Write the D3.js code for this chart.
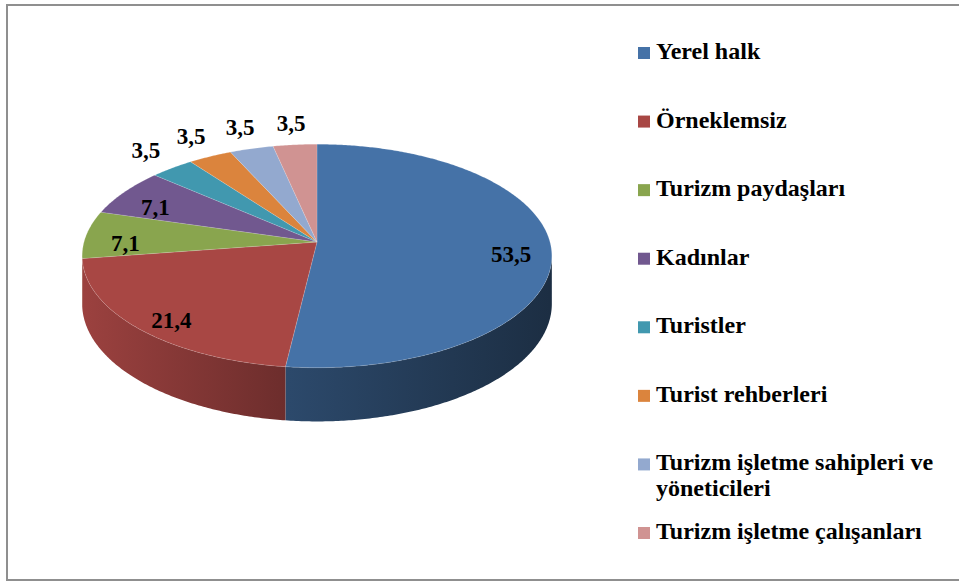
<!DOCTYPE html>
<html>
<head>
<meta charset="utf-8">
<script src="https://cdn.jsdelivr.net/npm/d3@7"></script>
</head>
<body style="margin:0">
<script>
// data
const categories = ["Yerel halk", "Örneklemsiz", "Turizm paydaşları", "Kadınlar", "Turistler",
    "Turist rehberleri", "Turizm işletme sahipleri ve yöneticileri", "Turizm işletme çalışanları"];
const values = [53.5, 21.4, 7.1, 7.1, 3.5, 3.5, 3.5, 3.5];
const legendLines = [["Yerel halk"], ["Örneklemsiz"], ["Turizm paydaşları"], ["Kadınlar"], ["Turistler"],
    ["Turist rehberleri"], ["Turizm işletme sahipleri ve", "yöneticileri"], ["Turizm işletme çalışanları"]];
const colors = ["#4572a7", "#a84744", "#89a54e", "#71588f", "#4198af", "#db843d", "#93a9cf", "#d09392"];

var width = 959, height = 581;
// pie geometry (simple perspective: far side smaller)
var cx = 317, cy = 242, kx = 233, ky = 110, persp = 0.125, depth = 47;

const trFmt = d3.formatLocale({decimal: ",", thousands: ".", grouping: [3], currency: ["", ""]}).format(".1f");
const color = d3.scaleOrdinal().domain(categories).range(colors);

const svg = d3.select("body").append("svg")
    .attr("width", width)
    .attr("height", height)
    .style("display", "block");

// frame
svg.append("rect").attr("x", 7).attr("y", 5).attr("width", width + 20).attr("height", 575)
    .attr("fill", "#fff").attr("stroke", "#8f8f8f").attr("stroke-width", 2);

function proj(a, r, z) {
    var X = r * Math.sin(a), Y = r * Math.cos(a);
    var w = 1 + persp * Y;
    return [cx + kx * X / w, cy - ky * Y / w + z * depth / w];
}
function rim(a0, a1, r, z) {
    var n = Math.max(2, Math.ceil((a1 - a0) / 0.01));
    return d3.range(n + 1).map(function(i) { return proj(a0 + (a1 - a0) * i / n, r, z); });
}
var line = d3.line();

var arcs = d3.pie().sort(null).value(function(d) { return d; })(values);

// side gradients
var defs = svg.append("defs");
arcs.forEach(function(d, i) {
    var base = d3.rgb(colors[i]);
    var g = defs.append("linearGradient").attr("id", "side" + i)
        .attr("gradientUnits", "userSpaceOnUse")
        .attr("x1", cx - kx).attr("x2", cx + kx).attr("y1", 0).attr("y2", 0);
    [[0, 0.92], [0.44, 0.64], [1, 0.40]].forEach(function(s) {
        g.append("stop").attr("offset", s[0])
            .attr("stop-color", d3.rgb(base.r * s[1], base.g * s[1], base.b * s[1]).formatHex());
    });
});

// sides (visible front half only, between the silhouette points)
var lo = Math.acos(-persp), hi = 2 * Math.PI - Math.acos(-persp);
var sides = svg.append("g");
arcs.forEach(function(d, i) {
    var a0 = Math.max(d.startAngle, lo), a1 = Math.min(d.endAngle, hi);
    if (a1 <= a0) return;
    var pts = rim(a0, a1, 1, 0).concat(rim(a0, a1, 1, 1).reverse());
    sides.append("path").attr("d", line(pts) + "Z").attr("fill", "url(#side" + i + ")");
});

// top faces
svg.append("g").selectAll("path").data(arcs).enter().append("path")
    .attr("d", function(d) { return line([[cx, cy]].concat(rim(d.startAngle, d.endAngle, 1, 0))) + "Z"; })
    .attr("fill", function(d, i) { return color(categories[i]); })
    .attr("stroke", "#ffffff").attr("stroke-opacity", 0.25).attr("stroke-width", 0.6);

// data labels
svg.selectAll("text.lbl").data(arcs).enter().append("text")
    .attr("class", "lbl")
    .attr("x", function(d) {
        var inner = d.data > 5;
        return proj((d.startAngle + d.endAngle) / 2, inner ? 0.83 : 1.2, 0)[0];
    })
    .attr("y", function(d) {
        var inner = d.data > 5;
        return proj((d.startAngle + d.endAngle) / 2, inner ? 0.83 : 1.2, 0)[1] + (inner ? 7 : -5) + 8;
    })
    .attr("text-anchor", "middle")
    .attr("font-family", "Times New Roman").attr("font-weight", "bold").attr("font-size", 23)
    .attr("fill", "#000")
    .text(function(d) { return trFmt(d.data); });

// legend
var legendY = d3.scaleLinear().domain([0, 7]).range([53, 533]);
svg.selectAll("rect.key").data(categories).enter().append("rect")
    .attr("class", "key")
    .attr("x", 638).attr("y", function(d, i) { return legendY(i) - 6; })
    .attr("width", 12).attr("height", 12)
    .attr("fill", function(d) { return color(d); });
svg.selectAll("text.leg").data(categories).enter().append("text")
    .attr("class", "leg")
    .attr("x", 656).attr("y", function(d, i) { return legendY(i) + 6; })
    .attr("font-family", "Times New Roman").attr("font-weight", "bold").attr("font-size", 24)
    .attr("fill", "#000")
    .each(function(d, i) {
        var t = d3.select(this);
        legendLines[i].forEach(function(s, j) {
            t.append("tspan").attr("x", 656).attr("dy", j === 0 ? 0 : 26).text(s);
        });
    });
</script>
</body>
</html>
